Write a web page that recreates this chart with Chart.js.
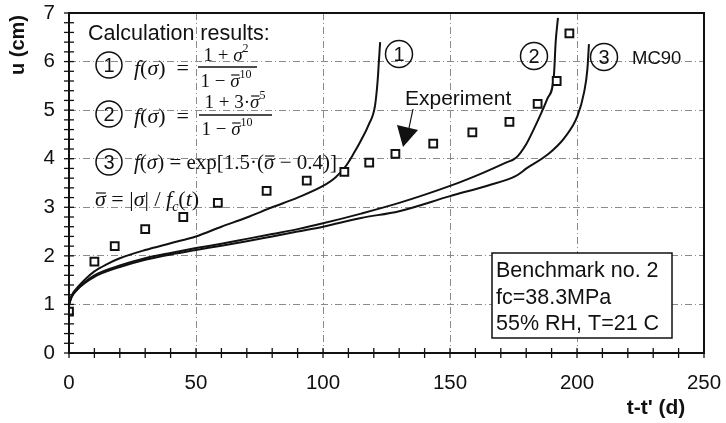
<!DOCTYPE html>
<html><head><meta charset="utf-8">
<script src="https://cdn.jsdelivr.net/npm/chart.js@4/dist/chart.umd.min.js"></script>
<style>html,body{margin:0;padding:0;background:#fff}</style>
</head><body>
<canvas id="c" width="726" height="423"></canvas>
<script>
// ---- data ----
const expX = [0, 10, 18, 30, 45, 58.6, 77.8, 93.6, 108.4, 118.2, 128.5, 143.4, 158.8, 173.4, 184.5, 192, 197];
const expY = [0.85, 1.88, 2.2, 2.55, 2.8, 3.09, 3.34, 3.55, 3.73, 3.92, 4.1, 4.31, 4.54, 4.76, 5.13, 5.6, 6.58];

const curve1X = [0, 1, 3, 6, 10, 15, 20, 30, 40, 50, 60, 70, 80, 90, 100, 105, 109, 112, 115, 118, 120.5, 121.5, 122, 122.5];
const curve1Y = [1.0, 1.18, 1.33, 1.5, 1.68, 1.83, 1.95, 2.12, 2.26, 2.4, 2.6, 2.79, 3.0, 3.2, 3.44, 3.62, 3.85, 4.1, 4.38, 4.7, 5.1, 5.6, 6.0, 6.4];

const curve2X = [0, 1, 3, 6, 10, 20, 30, 40, 50, 60, 70, 80, 90, 100, 115, 130, 150, 163, 172, 176, 180, 183, 186, 188.3, 190.9, 191.6, 192.5];
const curve2Y = [1.0, 1.15, 1.3, 1.45, 1.6, 1.8, 1.95, 2.06, 2.16, 2.25, 2.35, 2.45, 2.55, 2.67, 2.87, 3.09, 3.44, 3.71, 3.92, 4.02, 4.3, 4.61, 4.95, 5.23, 5.71, 6.4, 6.9];

const curve3X = [0, 1, 3, 6, 10, 20, 30, 40, 50, 60, 70, 80, 90, 100, 115, 130, 150, 165, 175.8, 180.4, 188.3, 194.9, 200.2, 202.8, 204.1, 204.7];
const curve3Y = [1.0, 1.15, 1.29, 1.43, 1.57, 1.77, 1.92, 2.03, 2.12, 2.21, 2.3, 2.4, 2.5, 2.6, 2.78, 2.92, 3.23, 3.45, 3.64, 3.81, 4.08, 4.42, 4.88, 5.37, 5.85, 6.36];

const xTicks = [0, 50, 100, 150, 200, 250];
const yTicks = [0, 1, 2, 3, 4, 5, 6, 7];

const pts = (xs, ys) => xs.map((x, i) => ({x: x, y: ys[i]}));

const SANS = '"Liberation Sans", Arial, sans-serif';
const SERIF = '"Liberation Serif", "Times New Roman", serif';

function run(ctx, x, y, parts, align) {
  let w = 0;
  for (const p of parts) { ctx.font = p.f; w += ctx.measureText(p.t).width; }
  let cx = align === 'center' ? x - w / 2 : x;
  for (const p of parts) {
    ctx.font = p.f;
    const tw = ctx.measureText(p.t).width;
    const yy = y + (p.dy || 0);
    ctx.fillText(p.t, cx, yy);
    if (p.bar) {
      ctx.beginPath(); ctx.lineWidth = 1.2;
      ctx.moveTo(cx + 1, yy - p.bar); ctx.lineTo(cx + tw, yy - p.bar); ctx.stroke();
    }
    cx += tw;
  }
  return w;
}
function circled(ctx, x, y, r, txt) {
  ctx.beginPath(); ctx.lineWidth = 1.5; ctx.arc(x, y, r, 0, Math.PI * 2); ctx.stroke();
  ctx.font = '20px ' + SANS; ctx.textAlign = 'center'; ctx.textBaseline = 'middle';
  ctx.fillText(txt, x, y + 1);
  ctx.textAlign = 'left'; ctx.textBaseline = 'alphabetic';
}

const deco = {
  id: 'deco',
  afterDatasetsDraw(chart) {
    const ctx = chart.ctx, a = chart.chartArea;
    const xs = chart.scales.x, ys = chart.scales.y;
    ctx.save();
    ctx.strokeStyle = '#111'; ctx.fillStyle = '#111';
    // frame
    ctx.lineWidth = 2;
    ctx.strokeRect(a.left, a.top, a.right - a.left, a.bottom - a.top);
    // ticks
    ctx.lineWidth = 1.3;
    for (let v = 0; v <= 250; v += 10) {
      const px = xs.getPixelForValue(v);
      ctx.beginPath(); ctx.moveTo(px, a.bottom - 5); ctx.lineTo(px, a.bottom + 5); ctx.stroke();
    }
    for (let k = 0; k <= 35; k++) {
      const py = ys.getPixelForValue(k * 0.2);
      ctx.beginPath(); ctx.moveTo(a.left - 5, py); ctx.lineTo(a.left + 5, py); ctx.stroke();
    }
    // axis titles
    ctx.font = 'bold 20px ' + SANS;
    ctx.textAlign = 'center'; ctx.textBaseline = 'middle';
    ctx.save(); ctx.translate(18, 45); ctx.rotate(-Math.PI / 2); ctx.fillText('u (cm)', 0, 0); ctx.restore();
    ctx.font = 'bold 21px ' + SANS;
    ctx.fillText("t-t' (d)", 656, 408);
    ctx.textAlign = 'left'; ctx.textBaseline = 'alphabetic';

    // Calculation results
    ctx.font = '21.5px ' + SANS;
    ctx.fillText('Calculation results:', 88, 40);
    circled(ctx, 109, 65, 13, '1');
    circled(ctx, 109, 114, 13, '2');
    circled(ctx, 109, 162, 13, '3');
    const I = 'italic 22px ' + SERIF, R = '22px ' + SERIF;
    const I2 = 'italic 19px ' + SERIF, R2 = '19px ' + SERIF, S = '12px ' + SERIF;
    // formula 1
    run(ctx, 134, 75, [{t:'f',f:I},{t:'(',f:R},{t:'σ',f:I},{t:')',f:R},{t:'  =',f:R}]);
    run(ctx, 226, 61, [{t:'1 + ',f:R2},{t:'σ',f:I2},{t:'2',f:S,dy:-9}], 'center');
    ctx.lineWidth = 1.3; ctx.beginPath(); ctx.moveTo(198, 67); ctx.lineTo(257, 67); ctx.stroke();
    run(ctx, 226, 87, [{t:'1 − ',f:R2},{t:'σ',f:I2,bar:12},{t:'10',f:S,dy:-9}], 'center');
    // formula 2
    run(ctx, 134, 123, [{t:'f',f:I},{t:'(',f:R},{t:'σ',f:I},{t:')',f:R},{t:'  =',f:R}]);
    run(ctx, 235, 108, [{t:'1 + 3·',f:R2},{t:'σ',f:I2,bar:12},{t:'5',f:S,dy:-9}], 'center');
    ctx.lineWidth = 1.3; ctx.beginPath(); ctx.moveTo(199, 115); ctx.lineTo(272, 115); ctx.stroke();
    run(ctx, 227, 135, [{t:'1 − ',f:R2},{t:'σ',f:I2,bar:12},{t:'10',f:S,dy:-9}], 'center');
    // formula 3
    const I3 = 'italic 21px ' + SERIF, R3 = '21px ' + SERIF;
    run(ctx, 134, 169, [{t:'f',f:I3},{t:'(',f:R3},{t:'σ',f:I3},{t:')',f:R3},{t:' = exp[1.5·(',f:R3},{t:'σ',f:I3,bar:13},{t:' − 0.4)]',f:R3}]);
    // sigma bar definition
    run(ctx, 95, 206, [{t:'σ',f:I,bar:13},{t:' = |',f:R},{t:'σ',f:I},{t:'| / ',f:R},{t:'f',f:I},{t:'c',f:'italic 14px ' + SERIF,dy:5},{t:'(',f:R},{t:'t',f:I},{t:')',f:R}]);

    // curve labels
    circled(ctx, 399, 54, 13.5, '1');
    circled(ctx, 534, 56, 13.5, '2');
    circled(ctx, 604, 57, 13.5, '3');
    ctx.font = '18.5px ' + SANS; ctx.textBaseline = 'middle';
    ctx.fillText('MC90', 632, 59);
    // Experiment
    ctx.font = '21px ' + SANS;
    ctx.fillText('Experiment', 405, 99);
    ctx.textBaseline = 'alphabetic';
    ctx.lineWidth = 1.2; ctx.beginPath(); ctx.moveTo(413, 109); ctx.lineTo(409, 128); ctx.stroke();
    ctx.beginPath(); ctx.moveTo(397, 125); ctx.lineTo(418, 130); ctx.lineTo(403, 147); ctx.closePath(); ctx.fill();

    // Benchmark box
    ctx.fillStyle = '#fff'; ctx.fillRect(492, 253, 180, 85);
    ctx.lineWidth = 1.5; ctx.strokeRect(492, 253, 180, 85);
    ctx.fillStyle = '#111'; ctx.font = '21.5px ' + SANS; ctx.textBaseline = 'middle';
    ctx.fillText('Benchmark no. 2', 496, 271);
    ctx.fillText('fc=38.3MPa', 496, 298);
    ctx.fillText('55% RH, T=21 C', 496, 324);
    ctx.restore();
  }
};

const lineDs = (xs, ys) => ({
  data: pts(xs, ys), showLine: true, borderColor: '#111', borderWidth: 2,
  pointRadius: 0, cubicInterpolationMode: 'monotone', fill: false
});

const noPad = s => { s.paddingLeft = 0; s.paddingRight = 0; s.paddingTop = 0; s.paddingBottom = 0; };

new Chart(document.getElementById('c'), {
  type: 'scatter',
  data: {
    datasets: [
      {data: pts(expX, expY), pointStyle: 'rect', pointRadius: 5.5, borderWidth: 2,
       borderColor: '#111', backgroundColor: '#fff', showLine: false},
      lineDs(curve1X, curve1Y),
      lineDs(curve2X, curve2Y),
      lineDs(curve3X, curve3Y)
    ]
  },
  options: {
    responsive: false, animation: false, devicePixelRatio: 1,
    layout: {padding: {top: 13, right: 22, left: 0, bottom: 0}},
    plugins: {legend: {display: false}, tooltip: {enabled: false}},
    scales: {
      x: {
        type: 'linear', min: 0, max: 250,
        afterBuildTicks: s => { s.ticks = xTicks.map(v => ({value: v})); },
        afterFit: s => { s.height = 70; noPad(s); },
        ticks: {font: {family: SANS, size: 20.5}, color: '#111', padding: 18},
        grid: {color: '#8a8a8a', lineWidth: 1, drawTicks: false},
        border: {display: false, dash: [7, 3, 1, 3]}
      },
      y: {
        min: 0, max: 7,
        afterBuildTicks: s => { s.ticks = yTicks.map(v => ({value: v})); },
        afterFit: s => { s.width = 69; noPad(s); },
        ticks: {font: {family: SANS, size: 20.5}, color: '#111', padding: 14},
        grid: {color: '#8a8a8a', lineWidth: 1, drawTicks: false},
        border: {display: false, dash: [7, 3, 1, 3]}
      }
    }
  },
  plugins: [deco]
});
</script>
</body></html>
